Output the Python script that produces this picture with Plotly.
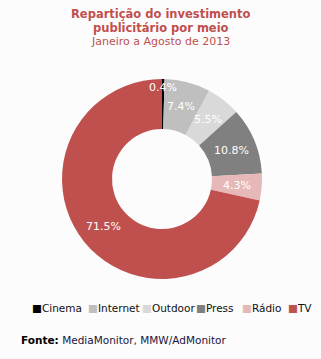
import math
import plotly.graph_objects as go

labels = ["Cinema", "Internet", "Outdoor", "Press", "Rádio", "TV"]
values = [0.4, 7.4, 5.5, 10.8, 4.3, 71.5]
colors = ["#000000", "#bfbfbf", "#d9d9d9", "#808080", "#e6b9b8", "#c0504d"]

W, H = 321, 359
BG = "#fcfcfc"
FONT = "DejaVu Sans"
CX, CY, R = 162, 179, 100

fig = go.Figure()
fig.add_trace(go.Pie(
    labels=labels, values=values,
    marker=dict(colors=colors, line=dict(width=0)),
    hole=0.5, sort=False, direction="clockwise", rotation=0,
    textinfo="none",
    domain=dict(x=[(CX - R) / W, (CX + R) / W], y=[(H - CY - R) / H, (H - CY + R) / H]),
    showlegend=False, hoverinfo="label+percent",
))

annos = [
    dict(text="<b>Repartição do investimento</b>", x=0.5, y=1 - 14 / H, font=dict(size=11.5, color="#c0504d")),
    dict(text="<b>publicitário por meio</b>", x=0.5, y=1 - 28 / H, font=dict(size=11.5, color="#c0504d")),
    dict(text="Janeiro a Agosto de 2013", x=0.5, y=1 - 41 / H, font=dict(size=11, color="#c0504d")),
]
for a in annos:
    a.update(xref="paper", yref="paper", xanchor="center", yanchor="middle", showarrow=False)
    a["font"]["family"] = FONT

# slice labels at ring middle, computed from the data
total = sum(values)
cum = 0.0
for v in values:
    mid = (cum + v / 2) / total * 2 * math.pi
    cum += v
    r = 92 if v / total < 0.01 else 75
    px = CX + r * math.sin(mid)
    py = CY - r * math.cos(mid)
    annos.append(dict(
        text=f"{v}%", x=px / W, y=1 - py / H, xref="paper", yref="paper",
        xanchor="center", yanchor="middle", showarrow=False,
        font=dict(family=FONT, size=11, color="white"),
    ))

leg_x = [30, 86, 140, 194, 240, 286]
for lab, col, lx in zip(labels, colors, leg_x):
    annos.append(dict(
        text=f"<span style='color:{col}'>■</span>{lab}",
        x=lx / W, y=1 - 308 / H, xref="paper", yref="paper",
        xanchor="left", yanchor="middle", showarrow=False,
        font=dict(family=FONT, size=10.5, color="#111111"),
    ))

annos.append(dict(
    text="<b>Fonte:</b> <span style='color:#1a1440'>MediaMonitor, MMW/AdMonitor</span>",
    x=19 / W, y=1 - 340 / H, xref="paper", yref="paper",
    xanchor="left", yanchor="middle", showarrow=False,
    font=dict(family=FONT, size=10.5, color="#000000"),
))

fig.update_layout(
    width=W, height=H,
    margin=dict(l=0, r=0, t=0, b=0),
    paper_bgcolor=BG, plot_bgcolor=BG,
    annotations=annos,
)

fig.write_html("out.html")
